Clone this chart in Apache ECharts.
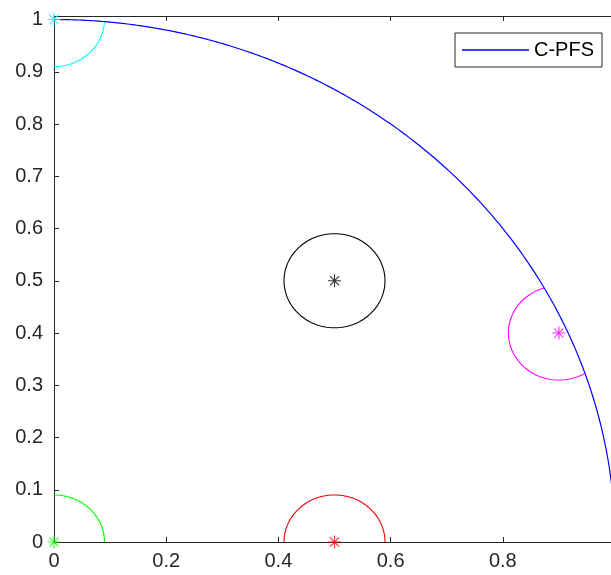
<!DOCTYPE html>
<html>
<head>
<meta charset="utf-8">
<script src="https://cdn.jsdelivr.net/npm/echarts@6/dist/echarts.min.js"></script>
<style>
html,body{margin:0;padding:0;background:#fff;}
#chart{width:611px;height:575px;}
</style>
</head>
<body>
<div id="chart"></div>
<script>
// ---- data ----
const xTicks = [0, 0.2, 0.4, 0.6, 0.8, 1];
const yTicks = [0, 0.1, 0.2, 0.3, 0.4, 0.5, 0.6, 0.7, 0.8, 0.9, 1];
const frontRadius = 1;               // C-PFS: quarter of the unit circle
const centerX = [0, 0.5, 0.9, 0, 0.5];
const centerY = [1, 0.5, 0.4, 0, 0];
const circleColors = ['#00FFFF', '#000000', '#FF00FF', '#00FF00', '#FF0000'];
const circleRadius = 0.09;
const legendName = 'C-PFS';

// ---- geometry from the data ----
function inside(x, y) {
  return x >= -1e-9 && y >= -1e-9 && x * x + y * y <= frontRadius * frontRadius + 1e-9;
}
const frontPts = [];
for (let a = 0; a <= 90; a += 0.25) {
  const t = a * Math.PI / 180;
  frontPts.push([frontRadius * Math.cos(t), frontRadius * Math.sin(t)]);
}
function arcPts(cx, cy, r) {
  const pts = [];
  let all = true;
  for (let a = 0; a < 360; a += 0.25) {
    const t = a * Math.PI / 180;
    const x = cx + r * Math.cos(t), y = cy + r * Math.sin(t);
    if (inside(x, y)) pts.push([x, y]); else all = false;
  }
  if (all) pts.push(pts[0]);   // full circle: close it
  return pts;
}
const star = 'path://M9.1,0 L10.9,0 L10.9,20 L9.1,20 Z M0,9.1 L20,9.1 L20,10.9 L0,10.9 Z M2.4,3.6 L3.6,2.4 L17.6,16.4 L16.4,17.6 Z M16.4,2.4 L17.6,3.6 L3.6,17.6 L2.4,16.4 Z';

const series = [{
  name: legendName, type: 'line', data: frontPts, showSymbol: false, symbol: 'none',
  lineStyle: {color: '#0000FF', width: 1.2}, itemStyle: {color: '#0000FF'},
  animation: false, z: 2
}];
for (let i = 0; i < centerX.length; i++) {
  series.push({
    name: 'c' + i, type: 'line', data: arcPts(centerX[i], centerY[i], circleRadius),
    showSymbol: false, symbol: 'none',
    lineStyle: {color: circleColors[i], width: 1.1}, animation: false, z: 3
  });
  series.push({
    name: 's' + i, type: 'scatter', data: [[centerX[i], centerY[i]]],
    symbol: star, symbolSize: 13, itemStyle: {color: circleColors[i]},
    animation: false, z: 4
  });
}

const axisCol = '#262626';
const labelStyle = {fontSize: 20, color: axisCol, fontFamily: 'Liberation Sans, Arial, sans-serif'};
const chart = echarts.init(document.getElementById('chart'), null, {renderer: 'canvas'});
chart.setOption({
  animation: false,
  backgroundColor: '#fff',
  grid: {left: 54, top: 16, width: 561, height: 526, containLabel: false, outerBoundsMode: 'none'},
  legend: {
    data: [{name: legendName, icon: 'rect'}], left: 455, top: 33,
    padding: [7, 8, 7, 7], itemWidth: 67, itemHeight: 1.3,
    itemStyle: {color: '#0000FF', borderWidth: 0},
    borderColor: axisCol, borderWidth: 1, backgroundColor: '#fff',
    textStyle: {fontSize: 20, color: '#000', fontFamily: 'Liberation Sans, Arial, sans-serif'}
  },
  xAxis: [{
    type: 'value', min: xTicks[0], max: xTicks[xTicks.length - 1], interval: 0.2, position: 'bottom',
    axisLine: {show: true, onZero: false, lineStyle: {color: axisCol, width: 1}},
    axisTick: {show: true, inside: true, length: 5, lineStyle: {color: axisCol}},
    axisLabel: Object.assign({margin: 9}, labelStyle),
    splitLine: {show: false}
  }, {
    type: 'value', min: xTicks[0], max: xTicks[xTicks.length - 1], interval: 0.2, position: 'top',
    axisLine: {show: true, onZero: false, lineStyle: {color: axisCol, width: 1}},
    axisTick: {show: true, inside: true, length: 5, lineStyle: {color: axisCol}},
    axisLabel: {show: false}, splitLine: {show: false}
  }],
  yAxis: [{
    type: 'value', min: yTicks[0], max: 1.0067, interval: 0.1, position: 'left',
    axisLine: {show: true, onZero: false, lineStyle: {color: axisCol, width: 1}},
    axisTick: {show: true, inside: true, length: 5, lineStyle: {color: axisCol}},
    axisLabel: Object.assign({margin: 11, showMaxLabel: false}, labelStyle),
    splitLine: {show: false}
  }],
  series: series
});
</script>
</body>
</html>
